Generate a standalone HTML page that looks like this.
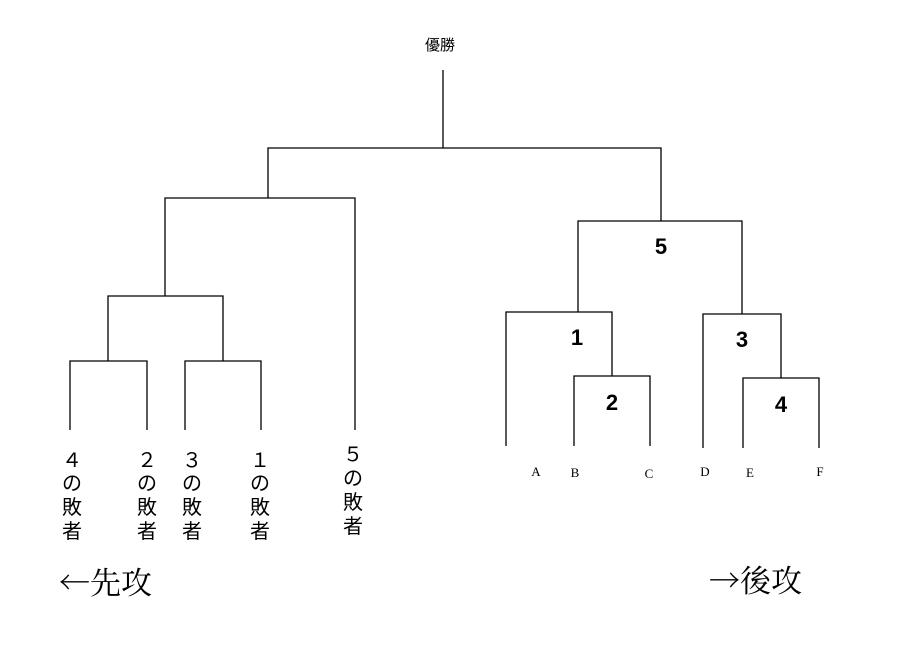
<!DOCTYPE html>
<html><head><meta charset="utf-8"><style>
body{margin:0;background:#fff;width:900px;height:650px;overflow:hidden}
svg{position:absolute;left:0;top:0}
.g{font-family:"Liberation Sans","Noto Sans CJK JP",sans-serif;font-size:20px;fill:#000}
.s{font-family:"Liberation Serif","Noto Serif CJK SC",serif;fill:#000}
.c{font-family:"Noto Serif CJK SC",serif;fill:#000}
</style></head><body>
<svg width="900" height="650" viewBox="0 0 900 650">
<g stroke="#000" stroke-width="1.3" fill="none">
<path d="M443 70V148M268 198V148H661V221"/>
<path d="M355 430V198H165V296M108 361V296H223V361"/>
<path d="M70 430V361H147V430M185 430V361H261V430"/>
<path d="M578 312V221H742V314"/>
<path d="M506 446V312H612V376M574 446V376H650V446"/>
<path d="M703 448V314H781V378M743 448V378H819V448"/>
</g>
<text x="440" y="50" text-anchor="middle" class="g" style="font-size:15px">優勝</text>
<g class="g" text-anchor="middle" style="font-size:22px;font-weight:bold">
<text x="661" y="254">5</text><text x="577" y="345">1</text><text x="612" y="410">2</text>
<text x="742" y="347">3</text><text x="781" y="412">4</text>
</g>
<g class="s" text-anchor="middle" style="font-size:13px">
<text x="536" y="476">A</text><text x="575" y="477">B</text><text x="649" y="478">C</text>
<text x="705" y="476">D</text><text x="750" y="477">E</text><text x="820" y="476">F</text>
</g>
<g class="g" text-anchor="middle">
<text x="72" y="467">４</text><text x="72" y="490">の</text><text x="72" y="514">敗</text><text x="72" y="538">者</text>
<text x="147" y="467">２</text><text x="147" y="490">の</text><text x="147" y="514">敗</text><text x="147" y="538">者</text>
<text x="192" y="467">３</text><text x="192" y="490">の</text><text x="192" y="514">敗</text><text x="192" y="538">者</text>
<text x="260" y="467">１</text><text x="260" y="490">の</text><text x="260" y="514">敗</text><text x="260" y="538">者</text>
<text x="353" y="461">５</text><text x="353" y="485">の</text><text x="353" y="509">敗</text><text x="353" y="533">者</text>
</g>
<text x="59" y="594" class="c" style="font-size:31px">←先攻</text>
<text x="709" y="592" class="c" style="font-size:31px">→後攻</text>
</svg>
</body></html>
